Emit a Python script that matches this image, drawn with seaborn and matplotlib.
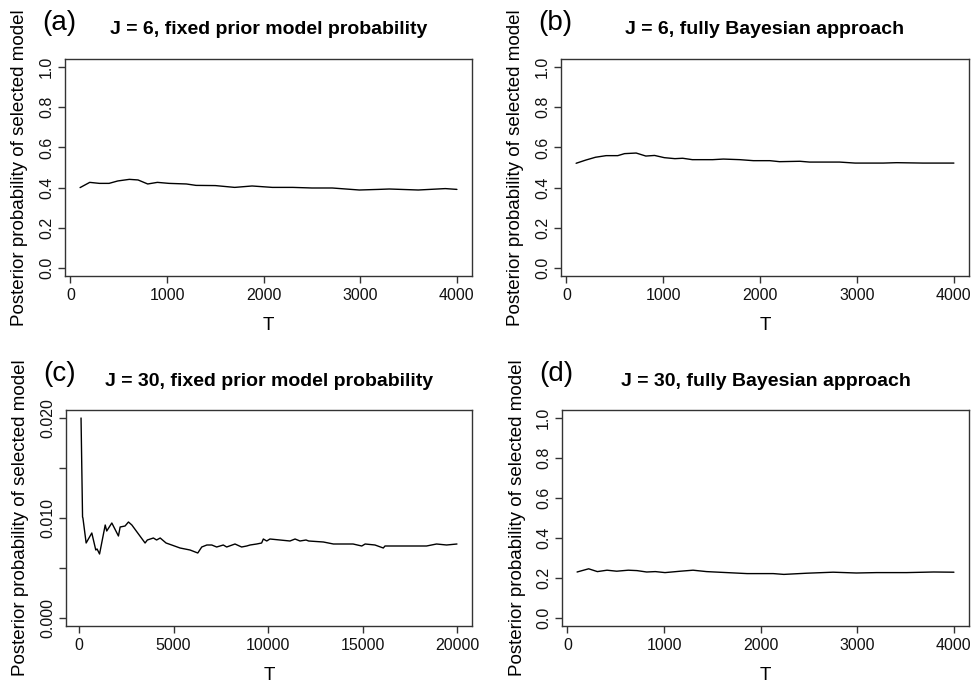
import pandas as pd
import matplotlib
matplotlib.use("Agg")
import matplotlib.pyplot as plt
import seaborn as sns

# panel (a): J = 6, fixed prior
t_a = [100, 200, 300, 400, 490, 610, 700, 800, 900, 1020, 1200, 1300, 1500, 1700,
       1880, 2090, 2300, 2500, 2710, 2850, 2990, 3190, 3300, 3600, 3880, 4000]
p_a = [0.400, 0.426, 0.421, 0.421, 0.433, 0.441, 0.438, 0.418, 0.426, 0.421, 0.418,
       0.411, 0.410, 0.401, 0.408, 0.401, 0.401, 0.398, 0.398, 0.393, 0.388, 0.391,
       0.393, 0.388, 0.395, 0.391]

# panel (b): J = 6, fully Bayesian
t_b = [100, 200, 300, 410, 530, 600, 720, 820, 910, 1010, 1120, 1200, 1300, 1510,
       1620, 1790, 1930, 2100, 2200, 2410, 2510, 2820, 2980, 3270, 3410, 3680, 4000]
p_b = [0.521, 0.537, 0.551, 0.559, 0.559, 0.569, 0.572, 0.557, 0.560, 0.549, 0.544,
       0.546, 0.539, 0.539, 0.542, 0.539, 0.534, 0.534, 0.529, 0.531, 0.527, 0.527,
       0.522, 0.522, 0.524, 0.522, 0.522]

# panel (c): J = 30, fixed prior
t_c = [100, 180, 200, 370, 670, 880, 950, 1080, 1380, 1460, 1730, 2080, 2170, 2430,
       2610, 2790, 3490, 3610, 3930, 4100, 4290, 4600, 4900, 5340, 5870, 6280, 6490,
       6760, 7020, 7280, 7630, 7810, 8250, 8600, 8870, 9050, 9400, 9660, 9750, 9930,
       10100, 10630, 11160, 11430, 11690, 12010, 12150, 12930, 13460, 14170, 14500,
       14960, 15140, 15660, 16100, 16190, 16630, 17340, 17870, 18390, 18920, 19450,
       20000]
p_c = [0.0200, 0.0101, 0.0100, 0.0075, 0.0085, 0.0068, 0.0069, 0.0064, 0.0093,
       0.0087, 0.0095, 0.0082, 0.0091, 0.0092, 0.0096, 0.0093, 0.0075, 0.0078,
       0.0080, 0.0078, 0.0080, 0.0075, 0.0073, 0.0070, 0.0068, 0.0065, 0.0071,
       0.0073, 0.0073, 0.0071, 0.0073, 0.0071, 0.0074, 0.0071, 0.0072, 0.0073,
       0.0074, 0.0075, 0.0079, 0.0077, 0.0079, 0.0078, 0.0077, 0.0079, 0.0077,
       0.0078, 0.0077, 0.0076, 0.0074, 0.0074, 0.0074, 0.0072, 0.0074, 0.0073,
       0.0070, 0.0072, 0.0072, 0.0072, 0.0072, 0.0072, 0.0074, 0.0073, 0.0074]

# panel (d): J = 30, fully Bayesian
t_d = [100, 220, 310, 410, 510, 630, 720, 820, 910, 1010, 1170, 1300, 1440, 1650,
       1860, 2130, 2240, 2480, 2750, 2990, 3200, 3510, 3790, 4000]
p_d = [0.230, 0.246, 0.232, 0.239, 0.234, 0.239, 0.237, 0.230, 0.232, 0.227, 0.234,
       0.239, 0.232, 0.227, 0.222, 0.222, 0.218, 0.224, 0.229, 0.225, 0.227, 0.227,
       0.230, 0.229]

letters = ["(a)", "(b)", "(c)", "(d)"]
titles = ["J = 6, fixed prior model probability",
          "J = 6, fully Bayesian approach",
          "J = 30, fixed prior model probability",
          "J = 30, fully Bayesian approach"]
ylab = "Posterior probability of selected model"

sns.set_style("ticks")
plt.rcParams["font.family"] = ["Liberation Sans", "DejaVu Sans"]
plt.rcParams["text.color"] = "black"
plt.rcParams["axes.labelcolor"] = "black"

W, H = 974, 685
fig = plt.figure(figsize=(W / 100, H / 100), dpi=100)

# plot boxes in pixels: left, right, top, bottom
boxes = [(65, 472, 59, 276), (561, 969, 59, 276),
         (66, 472, 410, 626), (562, 969, 410, 626)]
data = [(t_a, p_a), (t_b, p_b), (t_c, p_c), (t_d, p_d)]

for i in range(4):
    l, r, t, b = boxes[i]
    ax = fig.add_axes([l / W, 1 - b / H, (r - l) / W, (b - t) / H])
    df = pd.DataFrame({"T": data[i][0], "p": data[i][1]})
    sns.lineplot(data=df, x="T", y="p", ax=ax, color="black", linewidth=1.0)

    if i == 2:
        ax.set_xlim(100 - 0.04 * 19900, 20000 + 0.04 * 19900)
        ax.set_xticks([0, 5000, 10000, 15000, 20000])
        ax.set_ylim(-0.0008, 0.0208)
        # R drops the labels that would overlap
        ax.set_yticks([0.0, 0.005, 0.01, 0.015, 0.02])
        ax.set_yticklabels(["0.000", "", "0.010", "", "0.020"])
    else:
        ax.set_xlim(100 - 0.04 * 3900, 4000 + 0.04 * 3900)
        ax.set_xticks([0, 1000, 2000, 3000, 4000])
        ax.set_ylim(-0.04, 1.04)
        ax.set_yticks([0.0, 0.2, 0.4, 0.6, 0.8, 1.0])
        ax.set_yticklabels(["0.0", "0.2", "0.4", "0.6", "0.8", "1.0"])

    for s in ax.spines.values():
        s.set_visible(True)
        s.set_color("#333333")
        s.set_linewidth(1.0)
    ax.tick_params(length=5, width=1.0, color="#333333", labelsize=11.5,
                   labelcolor="#111111")
    ax.tick_params(axis="x", pad=4)
    ax.tick_params(axis="y", pad=3, labelrotation=90)
    for lab in ax.get_yticklabels():
        lab.set_va("center")

    ax.set_xlabel("T", fontsize=13.5)
    ax.set_ylabel(ylab, fontsize=13.5)
    hpx = b - t
    wpx = r - l
    ax.xaxis.set_label_coords(0.5, -49 / hpx)
    ax.xaxis.label.set_va("center")
    ax.yaxis.set_label_coords(-45 / wpx, 0.5)
    ax.yaxis.label.set_va("center")

    ax.text(0.5, 1 + 29 / hpx, titles[i], transform=ax.transAxes, ha="center",
            va="center", fontsize=14, fontweight="bold")
    fig.text((l - 23) / W, 1 - (t - 36) / H, letters[i], ha="left", va="center",
             fontsize=20)

fig.savefig("out.png", dpi=100)
